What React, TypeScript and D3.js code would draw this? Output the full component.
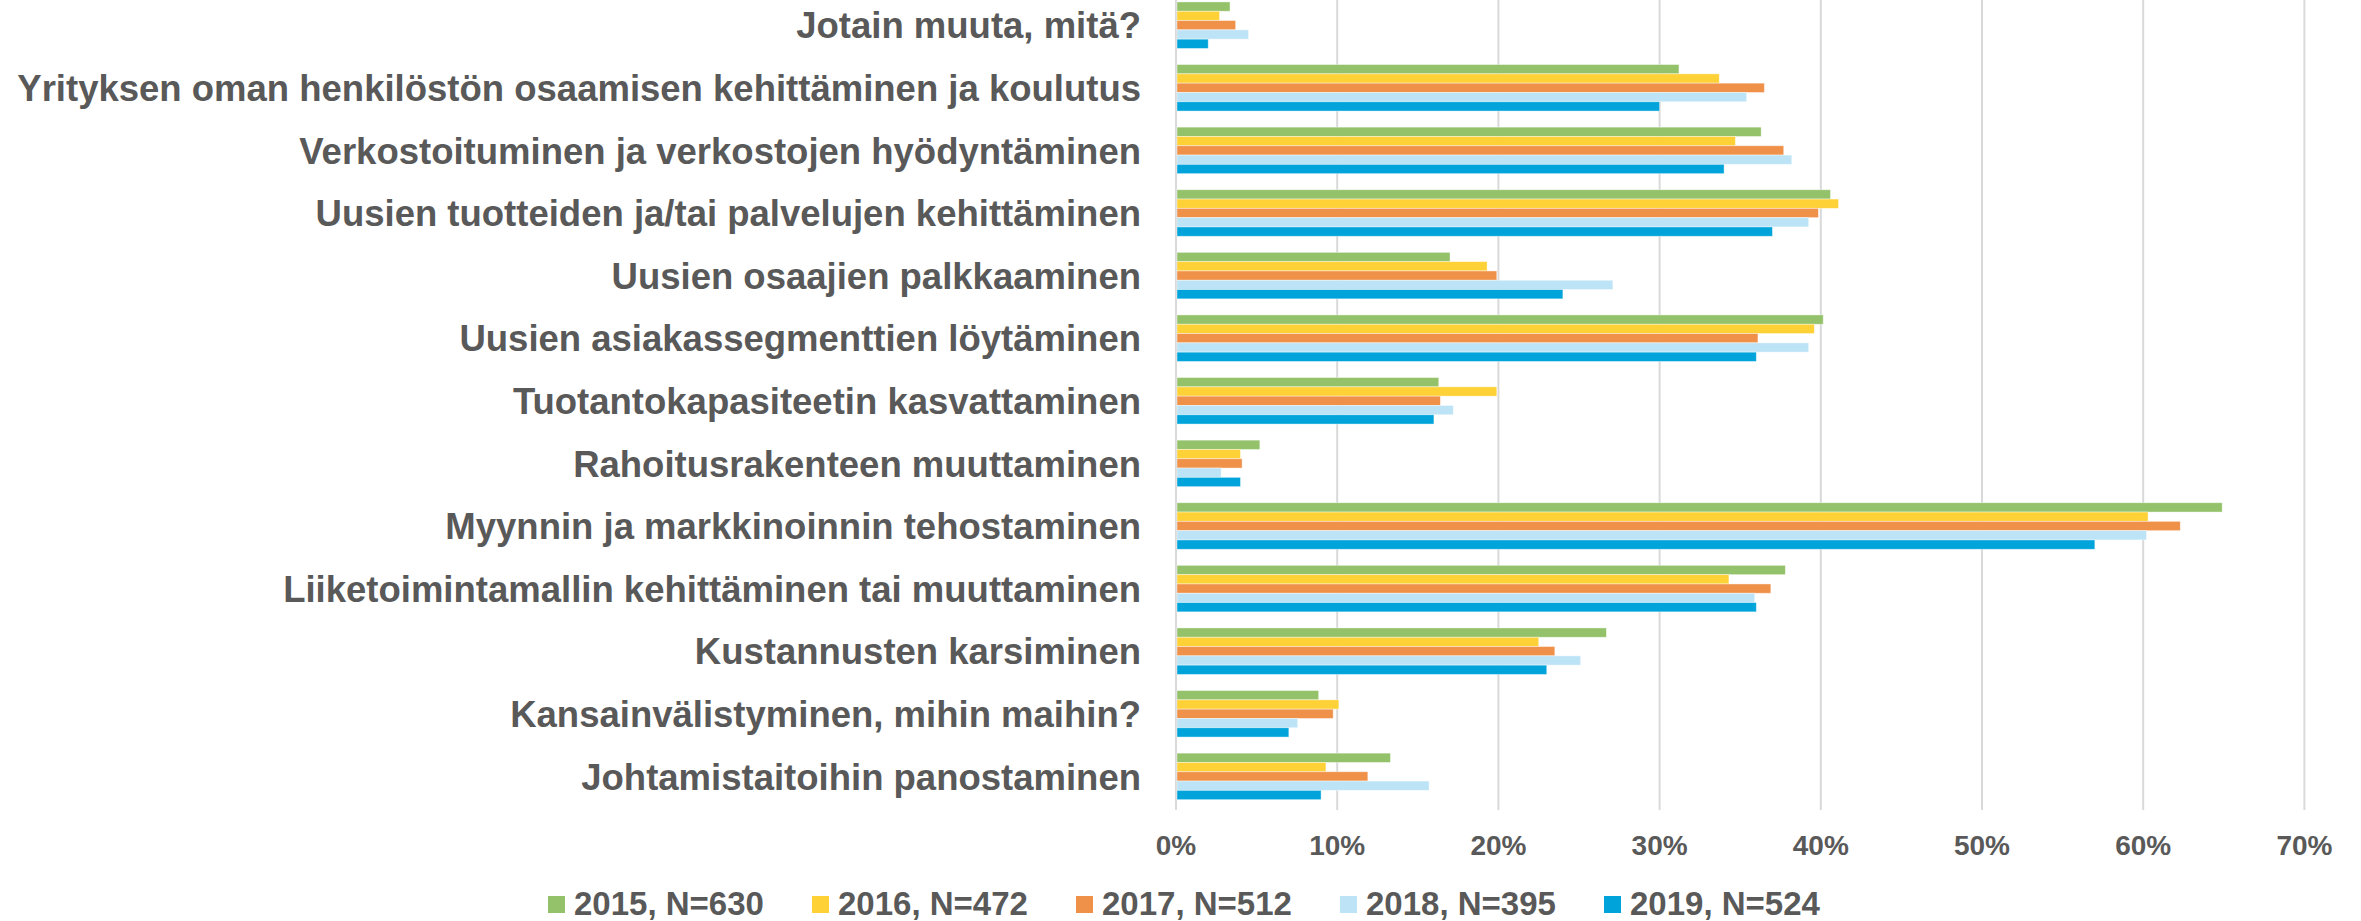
import React, { useEffect, useRef } from 'react';
import * as d3 from 'd3';

// categories, top to bottom as in the chart
const categories: string[] = [
    'Jotain muuta, mitä?',
    'Yrityksen oman henkilöstön osaamisen kehittäminen ja koulutus',
    'Verkostoituminen ja verkostojen hyödyntäminen',
    'Uusien tuotteiden ja/tai palvelujen kehittäminen',
    'Uusien osaajien palkkaaminen',
    'Uusien asiakassegmenttien löytäminen',
    'Tuotantokapasiteetin kasvattaminen',
    'Rahoitusrakenteen muuttaminen',
    'Myynnin ja markkinoinnin tehostaminen',
    'Liiketoimintamallin kehittäminen tai muuttaminen',
    'Kustannusten karsiminen',
    'Kansainvälistyminen, mihin maihin?',
    'Johtamistaitoihin panostaminen',
];

const seriesNames: string[] = ['2015, N=630', '2016, N=472', '2017, N=512', '2018, N=395', '2019, N=524'];
const seriesColors: string[] = ['#94C26A', '#FED137', '#F0914A', '#BDE4F6', '#00A4DB'];

// percentages, same order as categories
const v2015: number[] = [3.35, 31.2, 36.3, 40.6, 17.0, 40.15, 16.3, 5.2, 64.9, 37.8, 26.7, 8.85, 13.3];
const v2016: number[] = [2.7, 33.7, 34.7, 41.1, 19.3, 39.6, 19.9, 4.0, 60.3, 34.3, 22.5, 10.1, 9.3];
const v2017: number[] = [3.7, 36.5, 37.7, 39.85, 19.9, 36.1, 16.4, 4.1, 62.3, 36.9, 23.5, 9.75, 11.9];
const v2018: number[] = [4.5, 35.4, 38.2, 39.25, 27.1, 39.25, 17.2, 2.8, 60.2, 35.9, 25.1, 7.55, 15.7];
const v2019: number[] = [2.0, 30.0, 34.0, 37.0, 24.0, 36.0, 16.0, 4.0, 57.0, 36.0, 23.0, 7.0, 9.0];

const xTicks: number[] = [0, 10, 20, 30, 40, 50, 60, 70];

const W = 2361;
const H = 921;
const TEXT = '#595959';
const FONT = '"Liberation Sans", Arial, sans-serif';

const App = () => {
    const ref = useRef<SVGSVGElement | null>(null);

    useEffect(() => {
        const svg = d3.select(ref.current);
        svg.selectAll('*').remove();

        const allSeries = [v2015, v2016, v2017, v2018, v2019];

        const x = d3.scaleLinear().domain([0, 70]).range([1176, 2304.4]);

        const y = d3.scaleBand<string>()
            .domain(categories)
            .range([-6.1, 807.7])
            .paddingInner(0.257)
            .paddingOuter(0.1285);

        const ySub = d3.scaleBand<number>()
            .domain(d3.range(seriesNames.length))
            .range([0, y.bandwidth()]);

        // gridlines
        svg.append('g')
            .selectAll('line')
            .data(xTicks)
            .enter()
            .append('line')
            .attr('x1', d => x(d))
            .attr('x2', d => x(d))
            .attr('y1', 0)
            .attr('y2', 810)
            .attr('stroke', '#D9D9D9')
            .attr('stroke-width', 2);

        // bars
        const groups = svg.append('g')
            .selectAll('g')
            .data(categories)
            .enter()
            .append('g')
            .attr('transform', d => `translate(0, ${y(d)})`);

        groups.selectAll('rect')
            .data((_, i) => allSeries.map((s, k) => ({ k, v: s[i] })))
            .enter()
            .append('rect')
            .attr('x', x(0) + 1)
            .attr('y', d => ySub(d.k) as number)
            .attr('width', d => x(d.v) - x(0) - 1)
            .attr('height', ySub.bandwidth())
            .attr('fill', d => seriesColors[d.k])
            .attr('stroke', '#fff')
            .attr('stroke-opacity', 0.5)
            .attr('stroke-width', 0.8);

        // category labels
        svg.append('g')
            .selectAll('text')
            .data(categories)
            .enter()
            .append('text')
            .attr('x', 1141)
            .attr('y', d => (y(d) as number) + y.bandwidth() / 2)
            .attr('dy', '0.36em')
            .attr('text-anchor', 'end')
            .attr('font-family', FONT)
            .attr('font-weight', 'bold')
            .attr('font-size', 36.5)
            .attr('fill', TEXT)
            .text(d => d);

        // x tick labels
        svg.append('g')
            .selectAll('text')
            .data(xTicks)
            .enter()
            .append('text')
            .attr('x', d => x(d))
            .attr('y', 855)
            .attr('text-anchor', 'middle')
            .attr('font-family', FONT)
            .attr('font-weight', 'bold')
            .attr('font-size', 28)
            .attr('fill', TEXT)
            .text(d => `${d}%`);

        // legend
        const legend = svg.append('g')
            .selectAll('g')
            .data(seriesNames)
            .enter()
            .append('g')
            .attr('transform', (_, i) => `translate(${548 + i * 264}, 0)`);

        legend.append('rect')
            .attr('x', 0)
            .attr('y', 896)
            .attr('width', 17)
            .attr('height', 17)
            .attr('fill', (_, i) => seriesColors[i]);

        legend.append('text')
            .attr('x', 26)
            .attr('y', 915)
            .attr('font-family', FONT)
            .attr('font-weight', 'bold')
            .attr('font-size', 33)
            .attr('fill', TEXT)
            .text(d => d);
    }, []);

    return (
        <svg
            ref={ref}
            width={W}
            height={H}
            style={{ position: 'absolute', left: 0, top: 0, background: '#fff' }}
        />
    );
};

export default App;
